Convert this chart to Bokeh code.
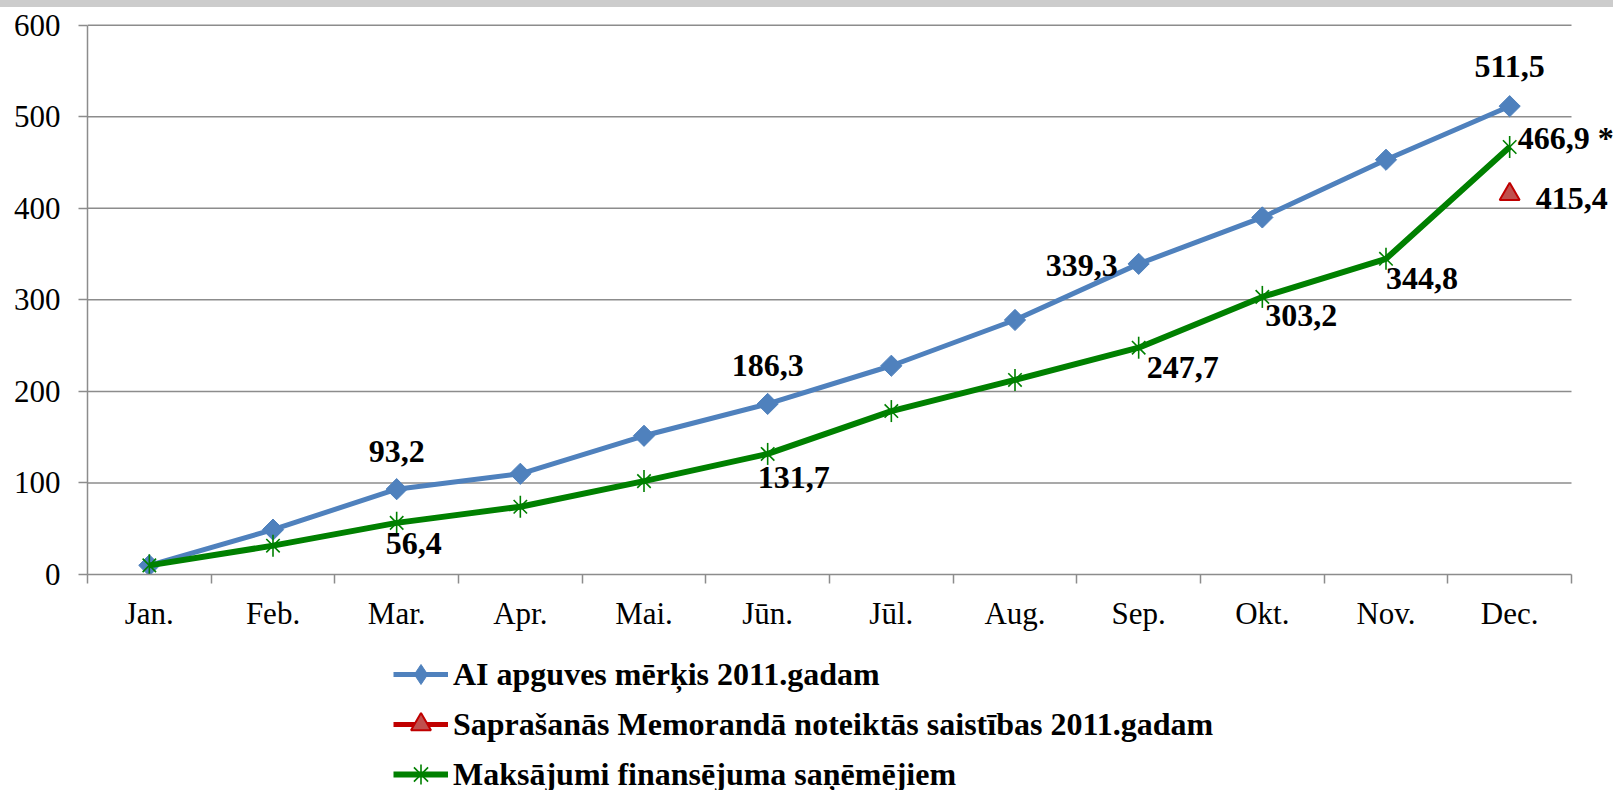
import numpy as np
from bokeh.plotting import figure
from bokeh.layouts import column
from bokeh.models import (ColumnDataSource, FixedTicker, Label, Legend, LegendItem,
                          Range1d)
from bokeh.embed import file_html
from bokeh.resources import INLINE

# ---------------- data ----------------
months = ["Jan.", "Feb.", "Mar.", "Apr.", "Mai.", "Jūn.", "Jūl.", "Aug.", "Sep.", "Okt.", "Nov.", "Dec."]
target = [10.0, 49.0, 93.2, 110.0, 151.5, 186.3, 228.0, 278.0, 339.3, 390.0, 453.0, 511.5]
payments = [10.0, 31.5, 56.4, 74.0, 102.0, 131.7, 178.5, 212.5, 247.7, 303.2, 344.8, 466.9]
memo_month = "Dec."
memo_value = 415.4

series_names = ["AI apguves mērķis 2011.gadam",
                "Saprašanās Memorandā noteiktās saistības 2011.gadam",
                "Maksājumi finansējuma saņēmējiem"]

target_labelled = ["Mar.", "Jūn.", "Sep.", "Dec."]
payments_labelled = ["Mar.", "Jūn.", "Sep.", "Okt.", "Nov.", "Dec."]
payments_suffix = {"Dec.": " *"}

y_ticks = [0, 100, 200, 300, 400, 500, 600]

# ---------------- styles ----------------
BLUE = "#4f81bd"
GREEN = "#008000"
RED_LINE = "#c00000"
RED_FILL = "#c0504d"
GRID = "#8c8c8c"
FONT = "Liberation Serif"

n = len(months)
x = list(range(1, n + 1))
pos = {m: i + 1 for i, m in enumerate(months)}

FIG_W = 1613
CHART_H, LEG_H = 643, 140
LEFT, BOTTOM, TOP = 87, 76, 14
frame_w = FIG_W - LEFT
cat_px = 1484.0 / n                      # width of one month slot in pixels
x_end = 0.5 + frame_w / cat_px            # frame continues past the last slot for labels
y_max = max(y_ticks)

src_t = ColumnDataSource(dict(x=x, y=target))
src_p = ColumnDataSource(dict(x=x, y=payments))
src_m = ColumnDataSource(dict(x=[pos[memo_month]], y=[memo_value]))


def draw_series(fig, for_legend=False):
    l_t = fig.line("x", "y", source=src_t, line_color=BLUE, line_width=5)
    if for_legend:
        s_t = fig.scatter("x", "y", source=src_t, marker="diamond", size=21,
                          fill_color=BLUE, line_color=BLUE)
    else:
        s_t = fig.scatter("x", "y", source=src_t, marker="square", angle=np.pi / 4, size=15,
                          fill_color=BLUE, line_color=BLUE)
    l_p = fig.line("x", "y", source=src_p, line_color=GREEN, line_width=6)
    s_p1 = fig.scatter("x", "y", source=src_p, marker="x", size=19, line_color=GREEN,
                       line_width=1.6)
    if for_legend:
        s_p2 = fig.scatter("x", "y", source=src_p, marker="cross", size=22,
                           line_color=GREEN, line_width=1.6)
    else:
        s_p2 = fig.scatter("x", "y", source=src_p, marker="dash", angle=np.pi / 2, size=22,
                           line_color=GREEN, line_width=1.6)
    l_m = fig.line("x", "y", source=src_m, line_color=RED_LINE, line_width=5)
    s_m = fig.scatter("x", "y", source=src_m, marker="triangle", size=20,
                      fill_color=RED_FILL, line_color=RED_LINE, line_width=2)
    return [l_t, s_t], [l_m, s_m], [l_p, s_p1, s_p2]


p = figure(width=FIG_W, height=CHART_H, output_backend="svg", toolbar_location=None,
           x_range=Range1d(0.5, x_end), y_range=Range1d(0, y_max + 4),
           min_border_left=LEFT, min_border_right=0, min_border_top=TOP,
           min_border_bottom=BOTTOM)
p.outline_line_color = None
p.background_fill_color = "white"
p.border_fill_color = "white"

# axes
p.xaxis.bounds = (0.5, n + 0.5)
p.xaxis.ticker = FixedTicker(ticks=x, minor_ticks=[i + 0.5 for i in range(0, n + 1)])
p.xaxis.major_label_overrides = {i: m for i, m in zip(x, months)}
p.xaxis.major_tick_out = 0
p.xaxis.major_tick_in = 0
p.xaxis.minor_tick_out = 9
p.xaxis.minor_tick_in = 0
p.xaxis.minor_tick_line_color = GRID
p.xaxis.minor_tick_line_width = 1.5
p.xaxis.axis_line_color = GRID
p.xaxis.axis_line_width = 1.5
p.xaxis.major_label_standoff = 12
p.xaxis.major_label_text_font = FONT
p.xaxis.major_label_text_font_size = "31px"
p.xaxis.major_label_text_color = "black"

p.yaxis.bounds = (0, y_max)
p.yaxis.ticker = FixedTicker(ticks=y_ticks)
p.yaxis.major_tick_out = 9
p.yaxis.major_tick_in = 0
p.yaxis.minor_tick_out = 0
p.yaxis.minor_tick_in = 0
p.yaxis.major_tick_line_color = GRID
p.yaxis.major_tick_line_width = 1.5
p.yaxis.axis_line_color = GRID
p.yaxis.axis_line_width = 1.5
p.yaxis.major_label_standoff = 18
p.yaxis.major_label_text_font = FONT
p.yaxis.major_label_text_font_size = "31px"
p.yaxis.major_label_text_color = "black"

p.xgrid.grid_line_color = None
p.ygrid.grid_line_color = None
gy = y_ticks[1:]
p.segment(x0=[0.5] * len(gy), y0=gy, x1=[n + 0.5] * len(gy), y1=gy,
          line_color=GRID, line_width=1.5)

draw_series(p)

# value labels
def fmt(v):
    return f"{v:.1f}".replace(".", ",")

label_style = dict(text_font=FONT, text_font_size="32px", text_font_style="bold",
                   text_color="black", text_baseline="middle")
t_off = {"Mar.": (0, 38, "center"), "Jūn.": (0, 38, "center"),
         "Sep.": (-57, -2, "center"), "Dec.": (0, 40, "center")}
p_off = {"Mar.": (17, -21, "center"), "Jūn.": (26, -24, "center"),
         "Sep.": (44, -20, "center"), "Okt.": (39, -19, "center"),
         "Nov.": (36, -20, "center"), "Dec.": (8, 9, "left")}

for m in target_labelled:
    dx, dy, al = t_off[m]
    v = target[pos[m] - 1]
    p.add_layout(Label(x=pos[m], y=v, text=fmt(v),
                       x_offset=dx, y_offset=dy, text_align=al, **label_style))
for m in payments_labelled:
    dx, dy, al = p_off[m]
    v = payments[pos[m] - 1]
    p.add_layout(Label(x=pos[m], y=v, text=fmt(v) + payments_suffix.get(m, ""),
                       x_offset=dx, y_offset=dy, text_align=al, **label_style))
p.add_layout(Label(x=pos[memo_month], y=memo_value, text=fmt(memo_value),
                   x_offset=26, y_offset=-4, text_align="left", **label_style))

# legend strip (its own figure; the series glyphs are drawn outside its view)
lg = figure(width=FIG_W, height=LEG_H, output_backend="svg", toolbar_location=None,
            x_range=Range1d(-20, -19), y_range=Range1d(-20, -19),
            x_axis_type=None, y_axis_type=None,
            min_border_left=0, min_border_right=0, min_border_top=0, min_border_bottom=0)
lg.outline_line_color = None
lg.xgrid.grid_line_color = None
lg.ygrid.grid_line_color = None
lg.background_fill_color = "white"
lg.border_fill_color = "white"
r_t, r_m, r_p = draw_series(lg, for_legend=True)

legend = Legend(items=[LegendItem(label=series_names[0], renderers=r_t),
                       LegendItem(label=series_names[1], renderers=r_m),
                       LegendItem(label=series_names[2], renderers=r_p)],
                location=(306, -9), orientation="vertical",
                glyph_width=55, glyph_height=50, label_height=30, label_standoff=5,
                spacing=-6, padding=0, margin=0,
                border_line_color=None, background_fill_alpha=0,
                label_text_font=FONT, label_text_font_size="32px",
                label_text_font_style="bold", label_text_color="black")
lg.add_layout(legend, "center")

layout = column(p, lg, spacing=0)

html = file_html(layout, INLINE, title="chart")
html = html.replace("</head>", "<style>html,body{overflow:hidden !important;margin:0 !important;}"
                    "body{padding:7px 0 0 0 !important;"
                    "background:linear-gradient(#cccccc 0px,#cccccc 7px,#ffffff 7px);}"
                    "</style></head>", 1)
open("out.html", "w").write(html)
